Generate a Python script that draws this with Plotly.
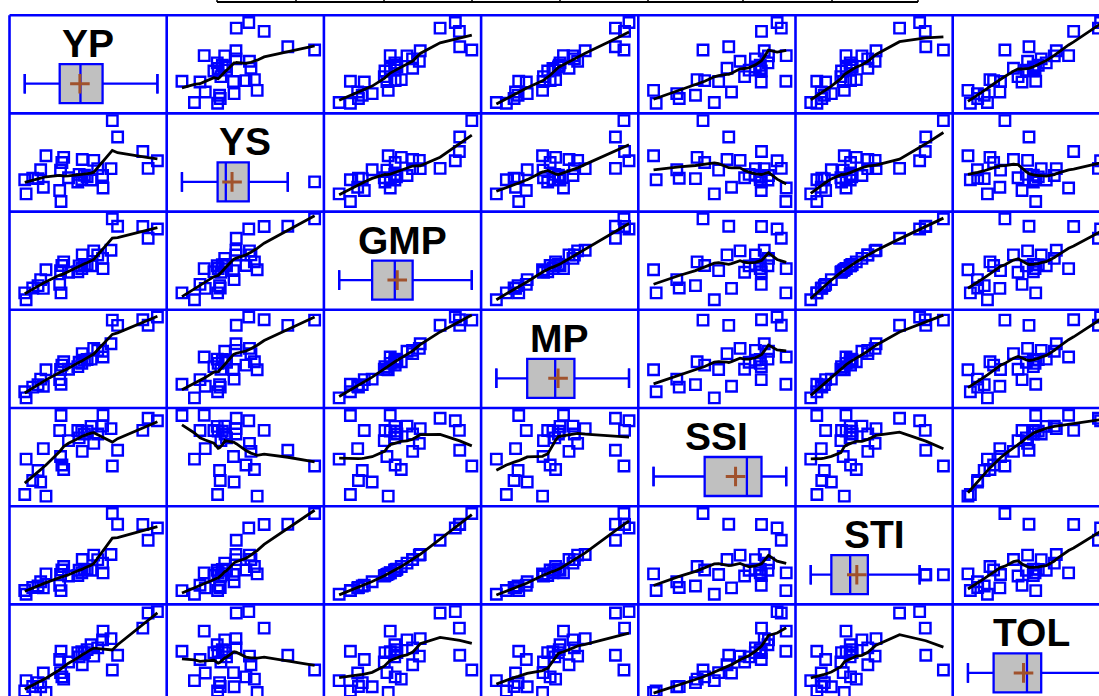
import numpy as np
import plotly.graph_objects as go

names = ["YP", "YS", "GMP", "MP", "SSI", "STI", "TOL"]
YP = [3790, 4000, 3670, 3100, 2980, 2770, 2760, 2950, 2500, 2290, 2560, 1990, 1820, 1790, 1810,
      1840, 1880, 1480, 1360, 1300, 1420, 1030, 1000, 1180, 2230, 2300, 2410, 2350, 2650, 2200]
YS = [1304, 1471, 1676, 1992, 2350, 876, 1150, 1300, 1050, 1062, 1480, 1099, 579, 820, 1267,
      1434, 1546, 1583, 1275, 1081, 890, 746, 1055, 1090, 1174, 1500, 1118, 1155, 1300, 1006]
GMP = [2223, 2426, 2480, 2485, 2646, 1558, 1782, 1958, 1620, 1559, 1946, 1479, 1027, 1212, 1514,
       1624, 1705, 1531, 1317, 1185, 1124, 877, 1027, 1134, 1618, 1857, 1641, 1647, 1856, 1488]
MP = [2547.0, 2735.5, 2673.0, 2546.0, 2665.0, 1823.0, 1955.0, 2125.0, 1775.0, 1676.0, 2020.0,
      1544.5, 1199.5, 1305.0, 1538.5, 1637.0, 1713.0, 1531.5, 1317.5, 1190.5, 1155.0, 888.0,
      1027.5, 1135.0, 1702.0, 1900.0, 1764.0, 1752.5, 1975.0, 1603.0]
SSI = [1.471, 1.418, 1.219, 0.802, 0.474, 1.534, 1.308, 1.254, 1.301, 1.203, 0.946, 1.004, 1.53,
       1.216, 0.673, 0.495, 0.399, -0.156, 0.14, 0.378, 0.837, 0.618, -0.123, 0.171, 1.062, 0.780,
       1.203, 1.141, 1.142, 1.217]
STI = [0.991, 1.18, 1.233, 1.238, 1.404, 0.486, 0.636, 0.769, 0.526, 0.488, 0.76, 0.438, 0.211,
       0.294, 0.46, 0.529, 0.583, 0.47, 0.348, 0.282, 0.253, 0.154, 0.212, 0.258, 0.525, 0.692,
       0.54, 0.544, 0.691, 0.444]
TOL = [2486, 2529, 1994, 1108, 630, 1894, 1610, 1650, 1450, 1228, 1080, 891, 1241, 970, 543, 406,
       334, -103, 85, 219, 530, 284, -55, 90, 1056, 800, 1292, 1195, 1350, 1194]
data = [YP, YS, GMP, MP, SSI, STI, TOL]

W, H = 1099, 696
X0, CW = 9.5, 157.2
Y0, CH = 15.2, 98.2
NV = 7
BLUE = "#0000FF"
MEAN_COLOR = "#A0522D"


def smooth(x, y, frac=0.5):
    x = np.asarray(x, float); y = np.asarray(y, float)
    xs = np.unique(x)
    r = int(np.ceil(frac * len(x)))
    out = []
    for x0 in xs:
        d = np.abs(x - x0)
        h = np.sort(d)[r - 1] * 1.0001 + 1e-12
        w = np.clip(1 - (d / h) ** 3, 0, None) ** 3
        sw = w.sum()
        xm = (w * x).sum() / sw; ym = (w * y).sum() / sw
        den = (w * (x - xm) ** 2).sum()
        b = (w * (x - xm) * (y - ym)).sum() / den if den > 0 else 0
        out.append(ym + b * (x0 - xm))
    return xs, np.array(out)


def whisker_ends(v):
    s = np.sort(np.asarray(v, float)); n = len(s)
    half = n // 2
    q1 = np.median(s[:half]); q3 = np.median(s[n - half:])
    iqr = q3 - q1
    return s[s >= q1 - 1.5 * iqr].min(), s[s <= q3 + 1.5 * iqr].max()


def xr(v):
    mn, mx = min(v), max(v); s = mx - mn
    return [mn - 0.115 * s, mx + 0.07 * s]


def yr(v):
    mn, mx = min(v), max(v); s = mx - mn
    return [mn - 0.125 * s, mx + 0.09 * s]


fx = (W - (X0 + CW * 6)) / CW
fy = (H - (Y0 + CH * 6)) / CH

fig = go.Figure()
layout = dict(width=W, height=H, margin=dict(l=0, r=0, t=0, b=0), showlegend=False,
              paper_bgcolor="white", plot_bgcolor="white")
annotations = []
for i in range(NV):
    for j in range(NV):
        k = i * NV + j + 1
        xa = "x" if k == 1 else f"x{k}"
        ya = "y" if k == 1 else f"y{k}"
        left = X0 + CW * j; right = min(X0 + CW * (j + 1), W)
        top = Y0 + CH * i; bot = min(Y0 + CH * (i + 1), H)
        rx = xr(data[j])
        if j == NV - 1:
            rx = [rx[0], rx[0] + (rx[1] - rx[0]) * fx]
        if i == j:
            ry = [0, CH]
        else:
            ry = yr(data[i])
        if i == NV - 1:
            ry = [ry[1] - (ry[1] - ry[0]) * fy, ry[1]]
        layout["xaxis" + ("" if k == 1 else str(k))] = dict(domain=[left / W, right / W], range=rx,
                                                            visible=False, anchor=ya)
        layout["yaxis" + ("" if k == 1 else str(k))] = dict(domain=[1 - bot / H, 1 - top / H], range=ry,
                                                            visible=False, anchor=xa)
        if i != j:
            fig.add_trace(go.Scatter(x=data[j], y=data[i], mode="markers", xaxis=xa, yaxis=ya,
                                     marker=dict(symbol="square-open", size=10.5, color=BLUE,
                                                 line=dict(width=2.4, color=BLUE))))
            sx, sy = smooth(data[j], data[i])
            fig.add_trace(go.Scatter(x=sx, y=sy, mode="lines", xaxis=xa, yaxis=ya,
                                     line=dict(color="black", width=2.8)))
        else:
            v = np.array(data[i], float)
            bc = CH - 68.5
            fig.add_trace(go.Box(x=v, y0=bc, orientation="h", width=39, xaxis=xa, yaxis=ya,
                                 quartilemethod="exclusive",
                                 fillcolor="#C0C0C0", line=dict(color=BLUE, width=2.3),
                                 boxpoints="outliers",
                                 marker=dict(symbol="square-open", size=10.5, color=BLUE,
                                             line=dict(width=2.4, color=BLUE))))
            lo, hi = whisker_ends(v)
            fig.add_trace(go.Scatter(x=[lo, hi], y=[bc, bc], mode="markers", xaxis=xa, yaxis=ya,
                                     marker=dict(symbol="line-ns-open", size=14, color=BLUE,
                                                 line=dict(width=2.3, color=BLUE))))
            fig.add_trace(go.Scatter(x=[v.mean()], y=[bc], mode="markers", xaxis=xa, yaxis=ya,
                                     marker=dict(symbol="cross-thin-open", size=14, color=MEAN_COLOR,
                                                 line=dict(width=3, color=MEAN_COLOR))))
            annotations.append(dict(text=names[i], xref="paper", yref="paper",
                                    x=(X0 + CW * (j + 0.5)) / W, y=1 - (top + 28.5) / H,
                                    xanchor="center", yanchor="middle", showarrow=False,
                                    font=dict(family="Liberation Sans, Arial", size=39,
                                              color="black", weight="bold")))

shapes = []
for j in range(NV):
    xx = (X0 + CW * j) / W
    shapes.append(dict(type="line", xref="paper", yref="paper", x0=xx, x1=xx, y0=0, y1=1 - Y0 / H,
                       line=dict(color=BLUE, width=2.6)))
for i in range(NV):
    yy = 1 - (Y0 + CH * i) / H
    shapes.append(dict(type="line", xref="paper", yref="paper", x0=X0 / W, x1=1, y0=yy, y1=yy,
                       line=dict(color=BLUE, width=2.6)))
# partial table border at the top
table_cols = [217, 296, 384, 472, 560, 648, 743, 832, 918]
shapes.append(dict(type="line", xref="paper", yref="paper", x0=table_cols[0] / W, x1=table_cols[-1] / W,
                   y0=1 - 2 / H, y1=1 - 2 / H, line=dict(color="black", width=2)))
for c in table_cols:
    shapes.append(dict(type="line", xref="paper", yref="paper", x0=c / W, x1=c / W,
                       y0=1 - 2 / H, y1=1, line=dict(color="black", width=1.5)))

layout["shapes"] = shapes
layout["annotations"] = annotations
fig.update_layout(**layout)
fig.write_html("out.html", config={"displayModeBar": False},
               post_script="document.body.style.margin='0px';")
